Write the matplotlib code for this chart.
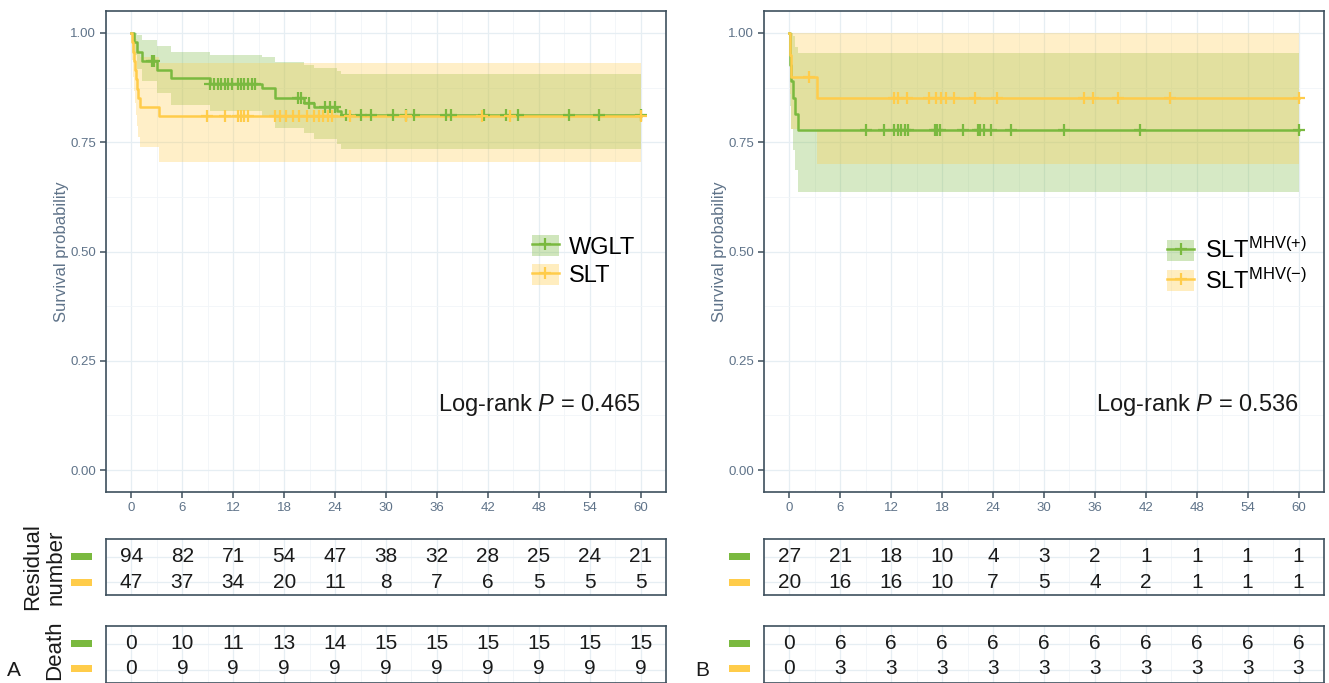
import numpy as np
import matplotlib
matplotlib.use("Agg")
import matplotlib.pyplot as plt
from matplotlib.patches import Patch, Rectangle
from matplotlib.lines import Line2D
from matplotlib.ticker import MultipleLocator

plt.rcParams['font.family'] = ['Liberation Sans', 'DejaVu Sans']
plt.rcParams['mathtext.fontset'] = 'custom'
plt.rcParams['mathtext.rm'] = 'Liberation Sans'
plt.rcParams['mathtext.it'] = 'Liberation Sans:italic'
plt.rcParams['axes.unicode_minus'] = True

# ---------------- data ----------------
months = [0, 6, 12, 18, 24, 30, 36, 42, 48, 54, 60]

# Panel A
wglt_t = [0, 0.3, 0.7, 1.3, 3.0, 4.7, 9.3, 15.4, 16.9, 20.3, 21.5, 24.2, 24.7]
wglt_s = [1.0, 0.978, 0.957, 0.935, 0.915, 0.897, 0.884, 0.874, 0.850, 0.840, 0.830, 0.821, 0.813]
wglt_lo = [1.0, 0.950, 0.918, 0.890, 0.862, 0.835, 0.822, 0.808, 0.782, 0.770, 0.757, 0.745, 0.735]
wglt_hi = [1.0, 1.0, 0.995, 0.984, 0.969, 0.957, 0.950, 0.945, 0.934, 0.926, 0.920, 0.912, 0.905]
wglt_cens = [2.4, 2.6, 9.3, 9.7, 10.2, 10.6, 11.0, 11.4, 11.8, 12.5, 12.9, 13.3, 13.7, 14.2, 14.6,
             19.6, 20.0, 20.9, 22.8, 23.4, 24.0, 25.3, 27.0, 28.2, 30.8, 32.4, 33.3, 37.1, 37.7,
             41.5, 44.2, 45.5, 51.6, 55.1, 60.0]

slt_t = [0, 0.1, 0.2, 0.3, 0.4, 0.5, 0.6, 0.8, 1.0, 3.2]
slt_s = [1.0, 0.979, 0.957, 0.936, 0.915, 0.894, 0.872, 0.851, 0.830, 0.809]
slt_lo = [1.0, 0.938, 0.900, 0.868, 0.840, 0.812, 0.787, 0.762, 0.738, 0.705]
slt_hi = [1.0, 1.0, 1.0, 1.0, 0.995, 0.985, 0.972, 0.960, 0.945, 0.930]
slt_cens = [8.9, 11.0, 12.5, 12.9, 13.3, 13.7, 16.9, 17.5, 18.2, 19.0, 19.8, 20.7, 21.5, 22.1,
            22.6, 23.2, 23.6, 25.7, 32.4, 41.3, 44.6, 60.0]

risk_wglt = [94, 82, 71, 54, 47, 38, 32, 28, 25, 24, 21]
risk_slt = [47, 37, 34, 20, 11, 8, 7, 6, 5, 5, 5]
death_wglt = [0, 10, 11, 13, 14, 15, 15, 15, 15, 15, 15]
death_slt = [0, 9, 9, 9, 9, 9, 9, 9, 9, 9, 9]

# Panel B
pos_t = [0, 0.05, 0.1, 0.15, 0.45, 0.6, 1.0]
pos_s = [1.0, 0.963, 0.926, 0.889, 0.852, 0.815, 0.778]
pos_lo = [1.0, 0.893, 0.832, 0.780, 0.731, 0.686, 0.635]
pos_hi = [1.0, 1.0, 1.0, 1.0, 0.993, 0.968, 0.953]
pos_cens = [9.0, 11.2, 12.3, 12.8, 13.2, 13.6, 14.0, 17.1, 17.4, 17.7, 20.4, 22.2, 22.5, 22.9,
            23.8, 26.1, 32.4, 41.3, 60.0]

neg_t = [0, 0.1, 0.2, 3.2]
neg_s = [1.0, 0.95, 0.90, 0.85]
neg_lo = [1.0, 0.860, 0.780, 0.700]
neg_hi = [1.0, 1.0, 1.0, 1.0]
neg_cens = [2.3, 12.3, 12.8, 13.9, 16.4, 17.3, 17.9, 18.5, 19.4, 21.9, 24.5, 34.7, 35.8, 38.7,
            44.8, 60.0]

risk_pos = [27, 21, 18, 10, 4, 3, 2, 1, 1, 1, 1]
risk_neg = [20, 16, 16, 10, 7, 5, 4, 2, 1, 1, 1]
death_pos = [0, 6, 6, 6, 6, 6, 6, 6, 6, 6, 6]
death_neg = [0, 3, 3, 3, 3, 3, 3, 3, 3, 3, 3]

labels_A = ['WGLT', 'SLT']
labels_B = [r'SLT$^{\mathrm{MHV(+)}}$', r'SLT$^{\mathrm{MHV(-)}}$']
pvals = ['0.465', '0.536']

# ---------------- style ----------------
GREEN = '#7AB93F'
YELLOW = '#FFCC4A'
BORDER = '#3E505D'
GRID = '#E6EEF3'
GRID_MIN = '#F1F5F8'
TICKC = '#5F7389'

W, H = 1329, 683
fig = plt.figure(figsize=(W / 100, H / 100), dpi=100)


def fx(px):
    return px / W


def fy(py):
    return 1 - py / H


def style_axes(ax):
    ax.set_facecolor('white')
    for sp in ax.spines.values():
        sp.set_color(BORDER)
        sp.set_linewidth(1.2)
    ax.set_xlim(-3, 63)
    ax.xaxis.set_major_locator(MultipleLocator(6))
    ax.xaxis.set_minor_locator(MultipleLocator(3))
    ax.grid(True, which='major', color=GRID, lw=0.9, zorder=0)
    ax.grid(True, which='minor', color=GRID_MIN, lw=0.6, zorder=0)
    ax.set_axisbelow(True)


def draw_km(ax, t, s, lo, hi, cens, color):
    t_end = max(cens[-1], t[-1])
    tt = list(t) + [t_end]
    ss = list(s) + [s[-1]]
    ll = list(lo) + [lo[-1]]
    hh = list(hi) + [hi[-1]]
    ax.fill_between(tt, ll, hh, step='post', color=color, alpha=0.3, lw=0, zorder=1)
    ax.step(tt, ss, where='post', color=color, lw=1.8, zorder=3)
    idx = np.searchsorted(np.array(t), np.array(cens), side='right') - 1
    cy = np.array(s)[idx]
    ax.plot(cens, cy, ls='none', marker='+', ms=9, mew=1.6, color=color, zorder=4)


def make_panel(x0, curves, labels, pval, legend_x, legend_y, risk, death, letter, letter_x):
    left, right = x0, x0 + 560
    ax = fig.add_axes([fx(left), fy(492), fx(right - left), (492 - 11) / H])
    style_axes(ax)
    ax.set_ylim(-0.05, 1.05)
    ax.yaxis.set_major_locator(MultipleLocator(0.25))
    ax.yaxis.set_minor_locator(MultipleLocator(0.125))
    ax.set_yticks([0, 0.25, 0.5, 0.75, 1.0])
    ax.set_yticklabels(['0.00', '0.25', '0.50', '0.75', '1.00'])
    ax.set_xticks(months)
    ax.set_xticklabels([str(m) for m in months])
    ax.tick_params(axis='both', which='major', colors=BORDER, labelcolor=TICKC,
                   labelsize=9.5, length=4, width=1.1, pad=3)
    ax.tick_params(axis='both', which='minor', length=0)
    ax.set_ylabel('Survival probability', fontsize=12, color=TICKC, labelpad=1)
    for (t, s, lo, hi, cens), col in zip(curves, [GREEN, YELLOW]):
        draw_km(ax, t, s, lo, hi, cens, col)
    handles = []
    for col in [GREEN, YELLOW]:
        handles.append((Patch(facecolor=col, alpha=0.35, edgecolor='none'),
                        Line2D([], [], color=col, lw=1.8, marker='+', ms=9, mew=1.6)))
    ax.legend(handles, labels, loc='center left', bbox_to_anchor=(legend_x, legend_y),
              frameon=False, fontsize=17, handlelength=1.15, handleheight=1.0,
              handletextpad=0.45, labelspacing=0.22, borderpad=0, borderaxespad=0)
    ax.text(0.955, 0.18, r'Log-rank $P$ = ' + pval, transform=ax.transAxes,
            ha='right', va='center', fontsize=17, color='#1A1A1A')

    # tables
    for (top, bot, rows, ypos) in [(539, 595, risk, (0.68, 0.23)),
                                    (626, 683, death, (0.70, 0.26))]:
        tax = fig.add_axes([fx(left), fy(bot), fx(right - left), (bot - top) / H])
        style_axes(tax)
        tax.set_ylim(0, 1)
        tax.set_xticks(months)
        tax.set_yticks([0.23, 0.68])
        tax.tick_params(which='both', length=0, labelbottom=False, labelleft=False)
        for vals, yv in zip(rows, ypos):
            for m, v in zip(months, vals):
                tax.text(m, yv, str(v), ha='center', va='center', fontsize=15,
                         color='#1A1A1A')
        # colored keys left of table
        for yv, col in zip(ypos, [GREEN, YELLOW]):
            ypx = top + (1 - yv) * (bot - top)
            fig.patches.append(Rectangle((fx(left - 35), fy(ypx + 3.5)), fx(21), 7 / H,
                                         transform=fig.transFigure, facecolor=col,
                                         edgecolor='none'))
    fig.text(fx(letter_x), fy(671), letter, fontsize=15, ha='center', va='center',
             color='#1A1A1A')
    return ax


make_panel(106, [(wglt_t, wglt_s, wglt_lo, wglt_hi, wglt_cens),
                 (slt_t, slt_s, slt_lo, slt_hi, slt_cens)],
           labels_A, pvals[0], 0.76, 0.48, (risk_wglt, risk_slt),
           (death_wglt, death_slt), 'A', 14)
make_panel(764, [(pos_t, pos_s, pos_lo, pos_hi, pos_cens),
                 (neg_t, neg_s, neg_lo, neg_hi, neg_cens)],
           labels_B, pvals[1], 0.72, 0.47, (risk_pos, risk_neg),
           (death_pos, death_neg), 'B', 702)

# row titles (left side only)
fig.text(fx(33), fy(567), 'Residual', rotation=90, fontsize=16, ha='center', va='center',
         color='#1A1A1A')
fig.text(fx(56), fy(567), 'number', rotation=90, fontsize=16, ha='center', va='center',
         color='#1A1A1A')
fig.text(fx(55), fy(650), 'Death', rotation=90, fontsize=16, ha='center', va='center',
         color='#1A1A1A')

fig.savefig('out.png', dpi=100, facecolor='white')
